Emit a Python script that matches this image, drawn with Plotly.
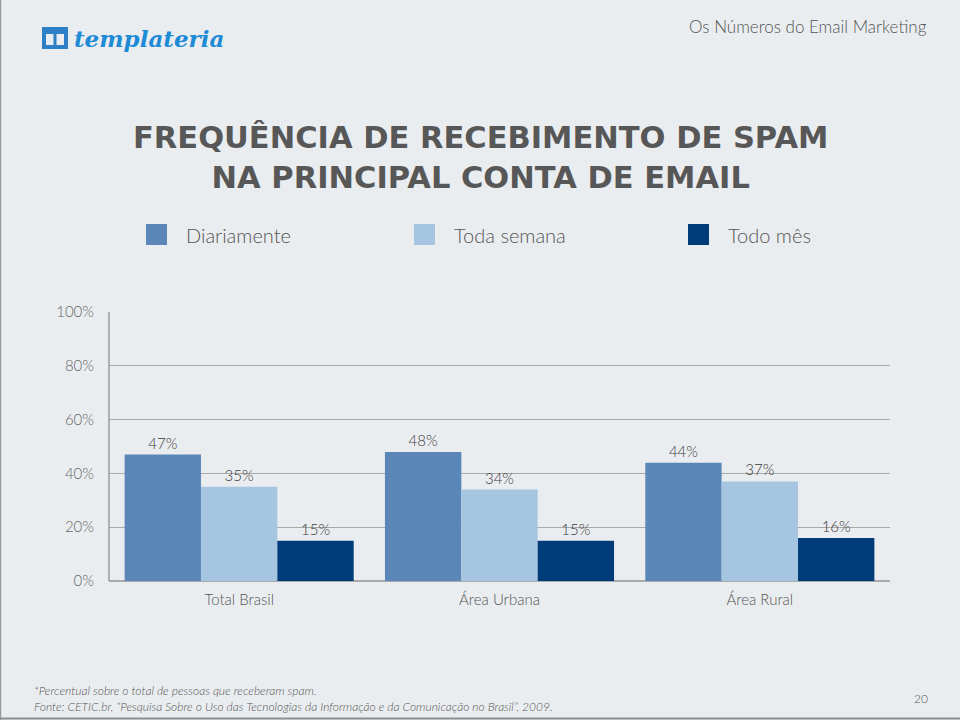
import plotly.graph_objects as go

categories = ["Total Brasil", "Área Urbana", "Área Rural"]
series_names = ["Diariamente", "Toda semana", "Todo mês"]
diariamente = [47, 48, 44]
toda_semana = [35, 34, 37]
todo_mes = [15, 15, 16]
series_values = [diariamente, toda_semana, todo_mes]
colors = ["#5b87b8", "#a6c5e1", "#003c7a"]
tick_vals = [0, 20, 40, 60, 80, 100]
tick_text = ["0%", "20%", "40%", "60%", "80%", "100%"]

W, H = 960, 720
L, R, T, B = 109, 70, 312, 139
PW, PH = W - L - R, H - T - B

def px(x):
    return (x - L) / PW

def py(y):
    return (H - B - y) / PH

GILL = "Lato, 'Open Sans', sans-serif"

fig = go.Figure()
for name, vals, col in zip(series_names, series_values, colors):
    fig.add_trace(go.Bar(
        x=categories, y=vals, name=name, marker=dict(color=col, line=dict(width=0)),
        text=[f"{v}%" for v in vals], textposition="outside",
        textfont=dict(family=GILL, size=15, color="#3a3a3a", weight=300),
        cliponaxis=False, showlegend=False, hoverinfo="skip",
    ))

shapes = []
annotations = []

# custom legend
leg_x = [146, 414, 688]
for name, col, lx in zip(series_names, colors, leg_x):
    shapes.append(dict(type="rect", xref="paper", yref="paper",
                       x0=px(lx), x1=px(lx + 21), y0=py(245), y1=py(224),
                       fillcolor=col, line=dict(width=0), layer="above"))
    annotations.append(dict(text=name, xref="paper", yref="paper", x=px(lx + 38), y=py(235),
                            xanchor="left", yanchor="middle", showarrow=False,
                            font=dict(family=GILL, size=20, color="#555555", weight=300)))

# title
annotations.append(dict(text="<b>FREQUÊNCIA DE RECEBIMENTO DE SPAM<br>NA PRINCIPAL CONTA DE EMAIL</b>",
                        xref="paper", yref="paper", x=px(480), y=py(157),
                        xanchor="center", yanchor="middle", showarrow=False, align="center",
                        font=dict(family="'DejaVu Sans', sans-serif", size=30.5, color="#575757")))

# header right
annotations.append(dict(text="Os Números do Email Marketing", xref="paper", yref="paper",
                        x=px(929), y=py(27), xanchor="right", yanchor="middle", showarrow=False,
                        font=dict(family=GILL, size=17, color="#555555", weight=300)))

# logo
shapes.append(dict(type="rect", xref="paper", yref="paper", x0=px(42), x1=px(68), y0=py(49), y1=py(27),
                   fillcolor="#2d7fc6", line=dict(width=0)))
shapes.append(dict(type="rect", xref="paper", yref="paper", x0=px(46), x1=px(64), y0=py(45), y1=py(34),
                   fillcolor="#e9edf1", line=dict(width=0)))
shapes.append(dict(type="line", xref="paper", yref="paper", x0=px(55), x1=px(55), y0=py(45), y1=py(34),
                   line=dict(color="#2d7fc6", width=3)))
annotations.append(dict(text="<b><i>templateria</i></b>", xref="paper", yref="paper",
                        x=px(72), y=py(38), xanchor="left", yanchor="middle", showarrow=False,
                        font=dict(family="'DejaVu Serif', serif", size=23, color="#1e8bd6")))

# footer
annotations.append(dict(text="<i>*Percentual sobre o total de pessoas que receberam spam.</i>",
                        xref="paper", yref="paper", x=px(32), y=py(690), xanchor="left", yanchor="middle",
                        showarrow=False, font=dict(family=GILL, size=12, color="#555555", weight=300)))
annotations.append(dict(text="<i>Fonte: CETIC.br, “Pesquisa Sobre o Uso das Tecnologias da Informação e da Comunicação no Brasil”, 2009.</i>",
                        xref="paper", yref="paper", x=px(32), y=py(706), xanchor="left", yanchor="middle",
                        showarrow=False, font=dict(family=GILL, size=12, color="#555555", weight=300)))
annotations.append(dict(text="20", xref="paper", yref="paper", x=px(921), y=py(698),
                        xanchor="center", yanchor="middle", showarrow=False,
                        font=dict(family=GILL, size=12, color="#555555", weight=300)))

# left axis line
shapes.append(dict(type="line", xref="paper", yref="paper", x0=0, x1=0, y0=0, y1=1,
                   line=dict(color="#9a9a9a", width=1.5)))
# slide frame (left and bottom edges)
shapes.append(dict(type="line", xref="paper", yref="paper", x0=px(0.5), x1=px(0.5), y0=py(0), y1=py(720),
                   line=dict(color="#9a9a9a", width=1.5)))
shapes.append(dict(type="line", xref="paper", yref="paper", x0=px(0), x1=px(960), y0=py(718.5), y1=py(718.5),
                   line=dict(color="#8e8e8e", width=2)))

fig.update_layout(
    width=W, height=H,
    margin=dict(l=L, r=R, t=T, b=B, pad=0),
    paper_bgcolor="#eaedf0", plot_bgcolor="#eaedf0",
    barmode="group", bargap=0.12, bargroupgap=0,
    shapes=shapes, annotations=annotations,
    xaxis=dict(showgrid=False, showline=False, ticks="", zeroline=False,
               tickfont=dict(family=GILL, size=15, color="#555555", weight=300), ticklabelstandoff=8),
    yaxis=dict(range=[0, 100], tickvals=tick_vals, ticktext=tick_text,
               showgrid=True, gridcolor="#a9a9a9", gridwidth=1, zeroline=True,
               zerolinecolor="#a9a9a9", zerolinewidth=1.5, showline=False, ticks="",
               tickfont=dict(family=GILL, size=15, color="#666666", weight=300), ticklabelstandoff=14),
)

fig.write_html("out.html", config={"displayModeBar": False},
               post_script="document.body.style.margin='0';document.body.style.overflow='hidden';")
